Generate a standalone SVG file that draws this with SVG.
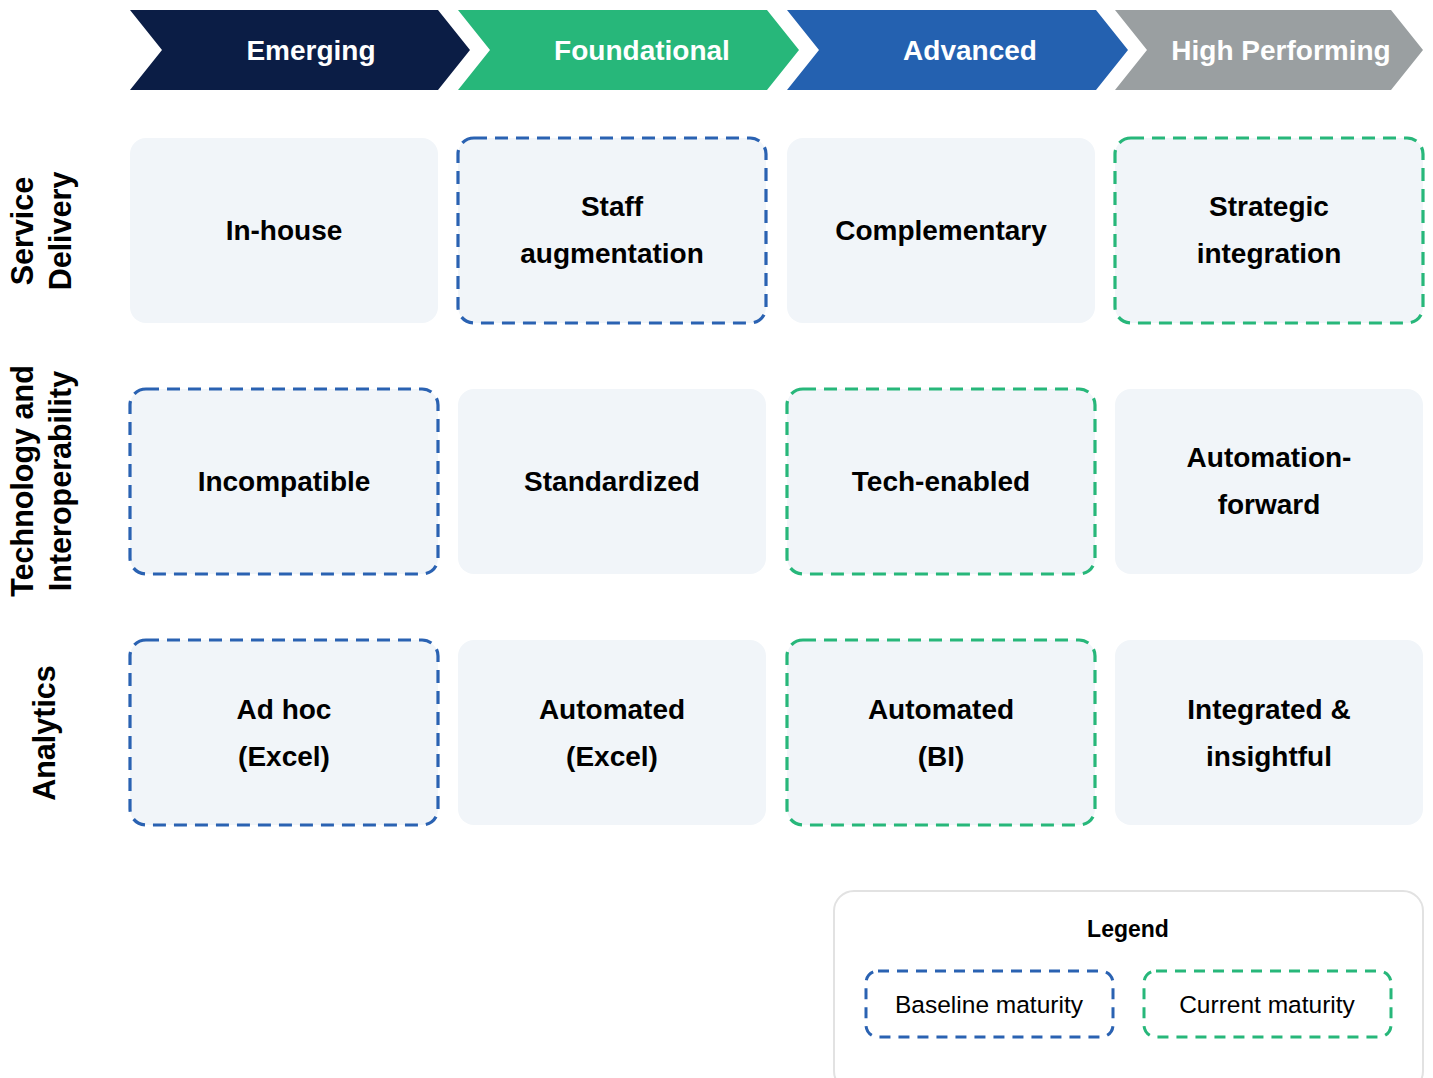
<svg xmlns="http://www.w3.org/2000/svg" width="1433" height="1078" viewBox="0 0 1433 1078">
  <style>
    .stage { font-family: "Liberation Sans", Arial, sans-serif; font-weight: bold; font-size: 28px; fill: #ffffff; text-anchor: middle; dominant-baseline: central; }
    .card { fill: #f1f5f9; }
    .baseline { stroke: #2a62b2; stroke-width: 3.2; stroke-dasharray: 13 8; fill: #f1f5f9; }
    .current { stroke: #27b77a; stroke-width: 3.2; stroke-dasharray: 13 8; fill: #f1f5f9; }
    .label { font-family: "Liberation Sans", Arial, sans-serif; font-weight: bold; font-size: 28px; fill: #000000; text-anchor: middle; dominant-baseline: central; }
    .axis { font-family: "Liberation Sans", Arial, sans-serif; font-weight: bold; font-size: 30.5px; fill: #000000; text-anchor: middle; dominant-baseline: central; }
    .legend-title { font-family: "Liberation Sans", Arial, sans-serif; font-weight: bold; font-size: 23px; fill: #000000; text-anchor: middle; dominant-baseline: central; }
    .legend-text { font-family: "Liberation Sans", Arial, sans-serif; font-size: 24.5px; fill: #000000; text-anchor: middle; dominant-baseline: central; }
  </style>
  <rect width="1433" height="1078" fill="#ffffff"/>

  <!-- maturity stage chevrons -->
  <g id="stage-emerging">
    <path d="M130,10 H438 L470,50 L438,90 H130 L162,50 Z" fill="#0b1d45"/>
    <text class="stage" x="311" y="50">Emerging</text>
  </g>
  <g id="stage-foundational">
    <path d="M458,10 H767 L799,50 L767,90 H458 L490,50 Z" fill="#27b77a"/>
    <text class="stage" x="642" y="50">Foundational</text>
  </g>
  <g id="stage-advanced">
    <path d="M787,10 H1096 L1128,50 L1096,90 H787 L819,50 Z" fill="#2461b0"/>
    <text class="stage" x="970" y="50">Advanced</text>
  </g>
  <g id="stage-high-performing">
    <path d="M1115,10 H1391 L1423,50 L1391,90 H1115 L1147,50 Z" fill="#9a9fa1"/>
    <text class="stage" x="1281" y="50">High Performing</text>
  </g>

  <!-- dimension labels -->
  <g id="axis-service-delivery">
    <text class="axis" transform="translate(22,231) rotate(-90)">Service</text>
    <text class="axis" transform="translate(60,231) rotate(-90)">Delivery</text>
  </g>
  <g id="axis-technology">
    <text class="axis" transform="translate(22,481) rotate(-90)">Technology and</text>
    <text class="axis" transform="translate(60,481) rotate(-90)">Interoperability</text>
  </g>
  <g id="axis-analytics">
    <text class="axis" transform="translate(44,733) rotate(-90)">Analytics</text>
  </g>

  <!-- Service Delivery row -->
  <g id="sd-inhouse">
    <rect class="card" x="130" y="138" width="308" height="185" rx="16"/>
    <text class="label" x="284" y="230">In-house</text>
  </g>
  <g id="sd-staff-augmentation">
    <rect class="baseline" x="458" y="138" width="308" height="185" rx="16"/>
    <text class="label" x="612" y="206">Staff</text>
    <text class="label" x="612" y="253">augmentation</text>
  </g>
  <g id="sd-complementary">
    <rect class="card" x="787" y="138" width="308" height="185" rx="16"/>
    <text class="label" x="941" y="230">Complementary</text>
  </g>
  <g id="sd-strategic-integration">
    <rect class="current" x="1115" y="138" width="308" height="185" rx="16"/>
    <text class="label" x="1269" y="206">Strategic</text>
    <text class="label" x="1269" y="253">integration</text>
  </g>

  <!-- Technology and Interoperability row -->
  <g id="ti-incompatible">
    <rect class="baseline" x="130" y="389" width="308" height="185" rx="16"/>
    <text class="label" x="284" y="481">Incompatible</text>
  </g>
  <g id="ti-standardized">
    <rect class="card" x="458" y="389" width="308" height="185" rx="16"/>
    <text class="label" x="612" y="481">Standardized</text>
  </g>
  <g id="ti-tech-enabled">
    <rect class="current" x="787" y="389" width="308" height="185" rx="16"/>
    <text class="label" x="941" y="481">Tech-enabled</text>
  </g>
  <g id="ti-automation-forward">
    <rect class="card" x="1115" y="389" width="308" height="185" rx="16"/>
    <text class="label" x="1269" y="457">Automation-</text>
    <text class="label" x="1269" y="504">forward</text>
  </g>

  <!-- Analytics row -->
  <g id="an-adhoc">
    <rect class="baseline" x="130" y="640" width="308" height="185" rx="16"/>
    <text class="label" x="284" y="709">Ad hoc</text>
    <text class="label" x="284" y="756">(Excel)</text>
  </g>
  <g id="an-automated-excel">
    <rect class="card" x="458" y="640" width="308" height="185" rx="16"/>
    <text class="label" x="612" y="709">Automated</text>
    <text class="label" x="612" y="756">(Excel)</text>
  </g>
  <g id="an-automated-bi">
    <rect class="current" x="787" y="640" width="308" height="185" rx="16"/>
    <text class="label" x="941" y="709">Automated</text>
    <text class="label" x="941" y="756">(BI)</text>
  </g>
  <g id="an-integrated">
    <rect class="card" x="1115" y="640" width="308" height="185" rx="16"/>
    <text class="label" x="1269" y="709">Integrated &amp;</text>
    <text class="label" x="1269" y="756">insightful</text>
  </g>

  <!-- no connectors in this chart -->
  <g id="connectors"/>

  <!-- legend -->
  <g id="legend">
    <rect x="834" y="891" width="589" height="200" rx="20" fill="#ffffff" stroke="#e2e2e2" stroke-width="2"/>
    <text class="legend-title" x="1128" y="929">Legend</text>
    <rect x="866" y="971" width="247" height="66" rx="12" fill="#ffffff" stroke="#2a62b2" stroke-width="3" stroke-dasharray="11 8"/>
    <text class="legend-text" x="989" y="1004">Baseline maturity</text>
    <rect x="1144" y="971" width="247" height="66" rx="12" fill="#ffffff" stroke="#27b77a" stroke-width="3" stroke-dasharray="11 8"/>
    <text class="legend-text" x="1267" y="1004">Current maturity</text>
  </g>
</svg>
